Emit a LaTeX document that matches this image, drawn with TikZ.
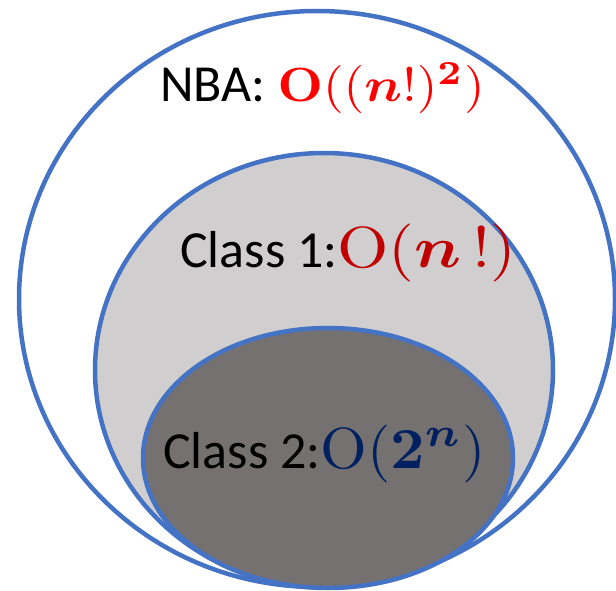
\documentclass[tikz,border=0pt]{standalone}
\usepackage[no-math]{fontspec}
\setmainfont{Carlito}
\usepackage{graphicx}
\usepackage{amsmath}
\usepackage{bm}
\usetikzlibrary{positioning}
\definecolor{setblue}{RGB}{68,114,196}
\definecolor{classgrey}{RGB}{208,206,206}
\definecolor{innergrey}{RGB}{118,113,113}
\definecolor{nbared}{RGB}{255,0,0}
\definecolor{classred}{RGB}{192,0,0}
\definecolor{classblue}{RGB}{0,32,96}
% math set at 10pt and blown up (horizontal, vertical)
\newcommand{\bigmath}[3]{\scalebox{#1}[#2]{\normalsize$#3$}}

\begin{document}
\begin{tikzpicture}[x=1pt,y=-1pt,
  set/.style={draw=setblue,line width=4.5pt},
  lbl/.style={font=\fontsize{52}{60}\selectfont,inner sep=0pt,
              anchor=base west}
]
\useasboundingbox (0,0) rectangle (616,591);
\draw[set,fill=white]     (317,299) ellipse [x radius=298pt,y radius=288pt];
\draw[set,fill=classgrey] (324,370) ellipse [x radius=229pt,y radius=217pt];
\draw[set,fill=innergrey] (328,458) ellipse [x radius=185pt,y radius=130pt];

\node[lbl] (nba) at (160,102) {NBA: \textcolor{nbared}{%
  \bigmath{5.3}{4.8}{\mathbf{O}((\bm{n}!)^{\mathbf{2}})}}};
\node[lbl] (class1) at (180,267) {Class 1:\textcolor{classred}{%
  \bigmath{6.6}{5.8}{\mathrm{O}(\bm{n}\,\mathbf{!})}}};
\node[lbl] (class2) at (163,468) {Class 2:\textcolor{classblue}{%
  \bigmath{6.0}{5.8}{\mathrm{O}(\mathbf{2}^{\bm{n}})}}};
\end{tikzpicture}
\end{document}
